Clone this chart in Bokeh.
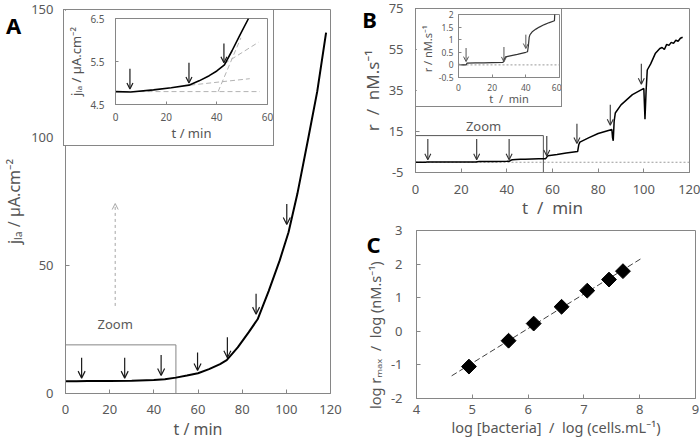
import numpy as np
from bokeh.plotting import figure
from bokeh.models import (Range1d, ColumnDataSource, Arrow, OpenHead, Label, FixedTicker)
from bokeh.embed import file_html
from bokeh.resources import INLINE
from bokeh.core.properties import value

# ---------------- data ----------------
# Panel A, main plot: anodic limiting current density vs time
A_T = [0, 5, 10, 20, 30, 40, 45, 50, 55, 60, 65, 70, 73, 78, 83, 87, 92, 97, 101, 105, 110, 114, 118]
A_J = [4.8, 4.8, 4.85, 4.9, 4.95, 5.3, 5.6, 6.2, 7.0, 7.9, 9.5, 11.5, 13.0, 18.0, 24.0, 29.0,
       40.0, 52.0, 63.0, 78.0, 100.0, 118.0, 141.0]
A_ARROW_T = [7.3, 26.8, 43.3, 59.8, 73.3, 86.3, 100.2]
A_ARROW_TOP = [14, 14, 15, 16, 22, 39, 74]
A_ARROW_BOT = [6, 6, 7, 9, 14, 31, 66]
A_ZOOM_T = [0, 50]
A_ZOOM_J = [0, 19]
A_XTICKS = [0, 20, 40, 60, 80, 100, 120]
A_XLABELS = ["0", "20", "40", "60", "80", "100", "120"]
A_YTICKS = [0, 50, 100, 150]
A_YLABELS = ["0", "50", "100", "150"]

# Panel A, inset
AI_T = [0, 6, 15, 22, 29, 33, 37, 40, 43, 46, 49, 52.5]
AI_J = [4.8, 4.79, 4.84, 4.89, 4.95, 5.05, 5.17, 5.28, 5.42, 5.75, 6.1, 6.5]
AI_ARROW_T = [5.7, 29.0, 42.8]
AI_ARROW_TOP = [5.33, 5.47, 5.92]
AI_ARROW_BOT = [4.86, 5.0, 5.47]
AI_GUIDE_T0 = [0, 29.5, 43.0, 40.5]
AI_GUIDE_J0 = [4.8, 4.95, 5.45, 4.8]
AI_GUIDE_T1 = [57, 53, 56.5, 49.5]
AI_GUIDE_J1 = [4.8, 5.1, 5.95, 6.05]
AI_XTICKS = [0, 20, 40, 60]
AI_XLABELS = ["0", "20", "40", "60"]
AI_YTICKS = [4.5, 5.5, 6.5]
AI_YLABELS = ["4.5", "5.5", "6.5"]

# Panel B: rate vs time (main and inset share the trace)
B_T = [0, 2, 4.5, 5, 10, 15, 20, 26.5, 27, 28, 30, 35, 40, 41, 41.5, 42, 42.5, 44, 46, 48, 51, 54, 57,
       57.5, 58, 62, 66, 71, 71.5, 72, 76, 80, 86, 86.3, 86.6, 87, 87.5, 90, 95, 100, 100.5, 101,
       101.5, 103, 105, 107, 108, 109, 110, 111, 112, 113, 114, 115, 116, 117]
B_R = [0.02, 0.0, 0.0, 0.07, 0.08, 0.08, 0.09, 0.1, 0.2, 0.32, 0.35, 0.42, 0.5, 0.52, 0.75, 1.1, 1.2,
       1.33, 1.42, 1.5, 1.6, 1.68, 1.75, 2.5, 3.2, 3.8, 4.5, 5.2, 8.5, 9.8, 12, 14, 16, 12, 10.5, 20,
       24, 28, 33, 36, 21, 35, 45, 48, 53, 55.5, 56, 55, 57.5, 57, 58.5, 58, 59.5, 59, 60.5, 61]
B_ARROW_T = [5.4, 26.8, 41.0, 57.5, 70.7, 85.3, 98.9]
B_ARROW_TOP = [11.3, 11.3, 11.3, 12.8, 18.8, 28.0, 48.0]
B_ARROW_BOT = [1.2, 1.2, 1.2, 3.1, 9.2, 18.0, 38.0]
B_ZOOM_T = [0, 56]
B_ZOOM_R = [-5, 13]
B_XTICKS = [0, 20, 40, 60, 80, 100, 120]
B_XLABELS = ["0", "20", "40", "60", "80", "100", "120"]
B_YTICKS = [-5, 15, 35, 55, 75]
B_YLABELS = ["-5", "15", "35", "55", "75"]

BI_ARROW_T = [4.5, 27.0, 40.0]
BI_ARROW_TOP = [0.67, 0.71, 1.2]
BI_ARROW_BOT = [0.13, 0.12, 0.65]
BI_XTICKS = [0, 20, 40, 60]
BI_XLABELS = ["0", "20", "40", "60"]
BI_YTICKS = [-0.5, 0, 0.5, 1, 1.5, 2]
BI_YLABELS = ["-0.5", "0", "0.5", "1", "1.5", "2"]

# Panel C: calibration
C_LOGB = [4.94, 5.65, 6.10, 6.60, 7.06, 7.45, 7.70]
C_LOGR = [-1.05, -0.28, 0.23, 0.73, 1.21, 1.54, 1.79]
C_FIT_X = [4.63, 8.02]
C_XTICKS = [4, 5, 6, 7, 8, 9]
C_XLABELS = ["4", "5", "6", "7", "8", "9"]
C_YTICKS = [-2, -1, 0, 1, 2, 3]
C_YLABELS = ["-2", "-1", "0", "1", "2", "3"]

# ---------------- styling helpers ----------------
FONT = "Noto Sans"
GRAY = "#868686"
TICK_TXT = "#595959"
LAB_TXT = "#555555"
NBSP = "\u00a0"
WSEP = NBSP + " /" + NBSP + " "     # wide " / " separator used in panels B and C


def base_fig(xr, yr, w, h, ml, mr, mt, mb, left, top, border=False):
    p = figure(width=w, height=h, x_range=Range1d(*xr), y_range=Range1d(*yr),
               output_backend="svg", toolbar_location=None,
               min_border_left=ml, min_border_right=mr,
               min_border_top=mt, min_border_bottom=mb)
    p.xgrid.visible = False
    p.ygrid.visible = False
    p.outline_line_color = GRAY
    p.background_fill_color = "white"
    p.border_fill_color = "white"
    st = {"position": "absolute", "left": f"{left}px", "top": f"{top}px"}
    if border:
        st["border"] = f"1px solid {GRAY}"
    p.styles = st
    return p


def style_axes(p, xt, xl, yt, yl, tick_fs, lab_fs, xlabel, ylabel,
               x_so, y_so, xl_so, yl_so, tick_in=4):
    p.xaxis.ticker = FixedTicker(ticks=xt)
    p.yaxis.ticker = FixedTicker(ticks=yt)
    p.xaxis.major_label_overrides = {float(k): v for k, v in zip(xt, xl)}
    p.yaxis.major_label_overrides = {float(k): v for k, v in zip(yt, yl)}
    p.xaxis.axis_label = xlabel
    p.yaxis.axis_label = ylabel
    for ax in (p.xaxis[0], p.yaxis[0]):
        ax.axis_line_color = GRAY
        ax.major_tick_line_color = GRAY
        ax.major_tick_in = tick_in
        ax.major_tick_out = 0
        ax.minor_tick_line_color = None
        ax.major_label_text_font = FONT
        ax.major_label_text_font_size = f"{tick_fs}px"
        ax.major_label_text_color = TICK_TXT
        ax.axis_label_text_font = FONT
        ax.axis_label_text_font_size = f"{lab_fs}px"
        ax.axis_label_text_font_style = "normal"
        ax.axis_label_text_color = LAB_TXT
    p.xaxis.major_label_standoff = x_so
    p.yaxis.major_label_standoff = y_so
    p.xaxis.axis_label_standoff = xl_so
    p.yaxis.axis_label_standoff = yl_so


def add_arrows(p, t, top, bot, color, width=1.2, head=7):
    src = ColumnDataSource(dict(x=t, y0=top, y1=bot))
    p.add_layout(Arrow(end=OpenHead(size=head, line_color=color, line_width=width),
                       x_start="x", y_start="y0", x_end="x", y_end="y1",
                       source=src, line_color=color, line_width=width))


def letter_fig(text, left, top, w=26, h=28, size="22px"):
    f = figure(width=w, height=h, x_range=Range1d(0, 1), y_range=Range1d(0, 1),
               x_axis_type=None, y_axis_type=None, output_backend="svg",
               toolbar_location=None, min_border=0,
               min_border_left=0, min_border_right=0, min_border_top=0, min_border_bottom=0)
    f.grid.visible = False
    f.outline_line_color = None
    f.background_fill_color = None
    f.border_fill_color = None
    f.text(x=[0.5], y=[0.5], text=[text], text_font=value(FONT), text_font_size=size,
           text_font_style="bold", text_color="black", text_align="center",
           text_baseline="middle")
    f.styles = {"position": "absolute", "left": f"{left}px", "top": f"{top}px"}
    return f


# ---------------- Panel A main ----------------
a = base_fig((0, 120), (0, 150), 344, 448, 63, 14, 9, 55, 0, 0)
style_axes(a, A_XTICKS, A_XLABELS, A_YTICKS, A_YLABELS, 13, 16,
           "t / min", "jₗₐ / µA.cm⁻²", 11, 12, 1, 3)
a.quad(left=[A_ZOOM_T[0]], right=[A_ZOOM_T[1]], bottom=[A_ZOOM_J[0]], top=[A_ZOOM_J[1]],
       fill_color=None, line_color=GRAY, line_width=1)
a.line(A_T, A_J, line_color="black", line_width=2)
add_arrows(a, A_ARROW_T, A_ARROW_TOP, A_ARROW_BOT, "#1a1a1a")
a.add_layout(Arrow(end=OpenHead(size=6, line_color="#a6a6a6", line_width=1),
                   x_start=22.5, y_start=34.2, x_end=22.5, y_end=74.2,
                   line_color="#a6a6a6", line_dash="3 3", line_width=1))
a.add_layout(Label(x=22.5, y=27.2, text="Zoom", text_font=FONT, text_font_size="13px",
                   text_color=TICK_TXT, text_align="center", text_baseline="middle"))

# ---------------- Panel A inset ----------------
ai = base_fig((0, 60), (4.5, 6.5), 211, 137, 46, 8, 8, 43, 63, 9, border=True)
style_axes(ai, AI_XTICKS, AI_XLABELS, AI_YTICKS, AI_YLABELS, 10, 13,
           "t / min", "jₗₐ / µA.cm⁻²", 8, 11, 0, 2, tick_in=3)
ai.segment(x0=AI_GUIDE_T0, y0=AI_GUIDE_J0, x1=AI_GUIDE_T1, y1=AI_GUIDE_J1,
           line_color="#b3b3b3", line_dash="5 3", line_width=1)
ai.line(AI_T, AI_J, line_color="black", line_width=1.6)
add_arrows(ai, AI_ARROW_T, AI_ARROW_TOP, AI_ARROW_BOT, "#1a1a1a", width=1.2, head=6)

# ---------------- Panel B main ----------------
b = base_fig((0, 120), (-5, 75), 356, 226, 71, 11, 8, 54, 344, 0)
style_axes(b, B_XTICKS, B_XLABELS, B_YTICKS, B_YLABELS, 13, 17,
           "t" + WSEP + "min", "r" + WSEP + "nM.s⁻¹", 12, 12, -1, 2)
b.segment(x0=[0], y0=[0], x1=[120], y1=[0], line_color="#9a9a9a", line_dash="2 2", line_width=1)
b.quad(left=[B_ZOOM_T[0]], right=[B_ZOOM_T[1]], bottom=[B_ZOOM_R[0]], top=[B_ZOOM_R[1]],
       fill_color=None, line_color="#555555", line_width=1)
b.line(B_T, B_R, line_color="black", line_width=1.5)
add_arrows(b, B_ARROW_T, B_ARROW_TOP, B_ARROW_BOT, "#333333", width=1.1, head=6)
b.add_layout(Label(x=29.8, y=17.6, text="Zoom", text_font=FONT, text_font_size="13px",
                   text_color=TICK_TXT, text_align="center", text_baseline="middle"))

# ---------------- Panel B inset ----------------
bi = base_fig((0, 60), (-0.5, 2), 147, 99, 37, 4, 5, 30, 415, 8, border=True)
style_axes(bi, BI_XTICKS, BI_XLABELS, BI_YTICKS, BI_YLABELS, 8.5, 11,
           "t" + WSEP + "min", "r  /  nM.s⁻¹", 6, 5, -3, 1, tick_in=3)
bi.segment(x0=[0], y0=[0], x1=[60], y1=[0], line_color="#9a9a9a", line_dash="2 2", line_width=1)
bi.line(B_T, B_R, line_color="#333333", line_width=1.2)
add_arrows(bi, BI_ARROW_T, BI_ARROW_TOP, BI_ARROW_BOT, "#555555", width=1, head=5)

# ---------------- Panel C ----------------
c = base_fig((4, 9), (-2, 3), 356, 228, 72, 5, 10, 50, 344, 220)
style_axes(c, C_XTICKS, C_XLABELS, C_YTICKS, C_YLABELS, 13, 14.5,
           "log [bacteria]" + WSEP + "log (cells.mL⁻¹)",
           "log rₘₐₓ" + WSEP + "log (nM.s⁻¹)" + NBSP * 11, 6, 14, 0, 3)
slope, intercept = np.polyfit(C_LOGB, C_LOGR, 1)
fit_y = [slope * x + intercept for x in C_FIT_X]
c.line(C_FIT_X, fit_y, line_color="#404040", line_dash="6 3", line_width=1)
c.scatter(C_LOGB, C_LOGR, marker="square", size=10.5, angle=np.pi / 4,
          fill_color="black", line_color="black")

la = letter_fig("A", 0, 10)
lb = letter_fig("B", 356, 4)
lc = letter_fig("C", 360, 229)

models = [a, ai, b, bi, c, la, lb, lc]
open("out.html", "w").write(file_html(models, INLINE, title="chart"))
